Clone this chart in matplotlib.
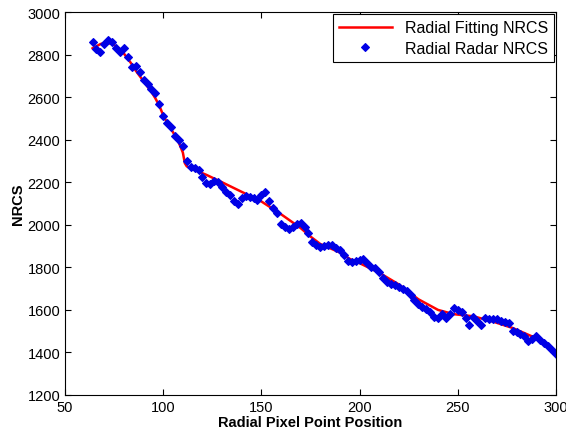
import numpy as np
import matplotlib
matplotlib.use("Agg")
import matplotlib.pyplot as plt

plt.rcParams['font.family'] = ['Liberation Sans', 'DejaVu Sans']

# radial radar NRCS samples
radar_x = list(range(64, 301, 2))
radar_y = [
    2860, 2825, 2815, 2850, 2870, 2860, 2830, 2815, 2830, 2790,
    2740, 2745, 2720, 2680, 2660, 2640, 2620, 2570, 2510, 2480,
    2460, 2420, 2400, 2370, 2300, 2270, 2265, 2260, 2225, 2195,
    2190, 2205, 2200, 2180, 2155, 2140, 2110, 2100, 2125, 2135,
    2130, 2125, 2115, 2140, 2155, 2110, 2080, 2055, 2005, 1990,
    1980, 1990, 2005, 2010, 1990, 1960, 1920, 1905, 1895, 1900,
    1905, 1905, 1890, 1880, 1860, 1830, 1825, 1830, 1835, 1840,
    1820, 1800, 1795, 1780, 1750, 1730, 1720, 1715, 1710, 1700,
    1690, 1670, 1645, 1630, 1615, 1605, 1590, 1565, 1560, 1580,
    1560, 1580, 1610, 1600, 1590, 1560, 1530, 1565, 1550, 1530,
    1560, 1555, 1555, 1555, 1550, 1545, 1540, 1500, 1495, 1485,
    1475, 1455, 1465, 1475, 1460, 1445, 1430, 1410, 1395,
]

# fitted curve
fit_x = [64, 66, 68, 70, 72, 74, 76, 78, 80, 82, 84, 86, 88, 90, 92, 94,
         96, 98, 100, 102, 104, 106, 108, 110, 111, 112, 114, 118, 122,
         130, 140, 150, 160, 170, 175, 180, 190, 195, 200, 210, 220, 230,
         240, 248, 258, 268, 278, 288, 294, 300]
fit_y = [2830, 2840, 2850, 2855, 2855, 2850, 2840, 2825, 2805, 2780, 2755,
         2725, 2700, 2675, 2650, 2625, 2595, 2560, 2515, 2480, 2450, 2420,
         2385, 2340, 2290, 2275, 2265, 2250, 2235, 2200, 2155, 2110, 2050,
         1985, 1945, 1910, 1870, 1840, 1820, 1775, 1720, 1650, 1600, 1580,
         1570, 1545, 1515, 1475, 1445, 1395]

fig = plt.figure(figsize=(5.66, 4.39), dpi=100)
ax = fig.add_axes([0.115, 0.098, 0.867, 0.872])

ax.plot(fit_x, fit_y, color='red', linewidth=1.8, label='Radial Fitting NRCS')
ax.plot(radar_x, radar_y, linestyle='None', marker='D', markersize=3.8,
        color='#0000e6', markeredgewidth=0.8, label='Radial Radar NRCS')

ax.set_xlim(50, 300)
ax.set_ylim(1200, 3000)
ax.set_xticks(range(50, 301, 50))
ax.set_yticks(range(1200, 3001, 200))
ax.tick_params(direction='in', top=True, right=True, labelsize=10.5, length=4)

ax.set_xlabel('Radial Pixel Point Position', fontsize=10.5, fontweight='bold', labelpad=1)
ax.set_ylabel('NRCS', fontsize=10.5, fontweight='bold', labelpad=2)

leg = ax.legend(loc='upper right', fontsize=11.5, fancybox=False, framealpha=1,
                edgecolor='black', borderaxespad=0.1, handlelength=3.3,
                borderpad=0.4, labelspacing=0.35, handletextpad=0.8)
leg.get_frame().set_linewidth(0.8)

for s in ax.spines.values():
    s.set_linewidth(0.8)

fig.savefig('out.png', dpi=100, facecolor='white')
